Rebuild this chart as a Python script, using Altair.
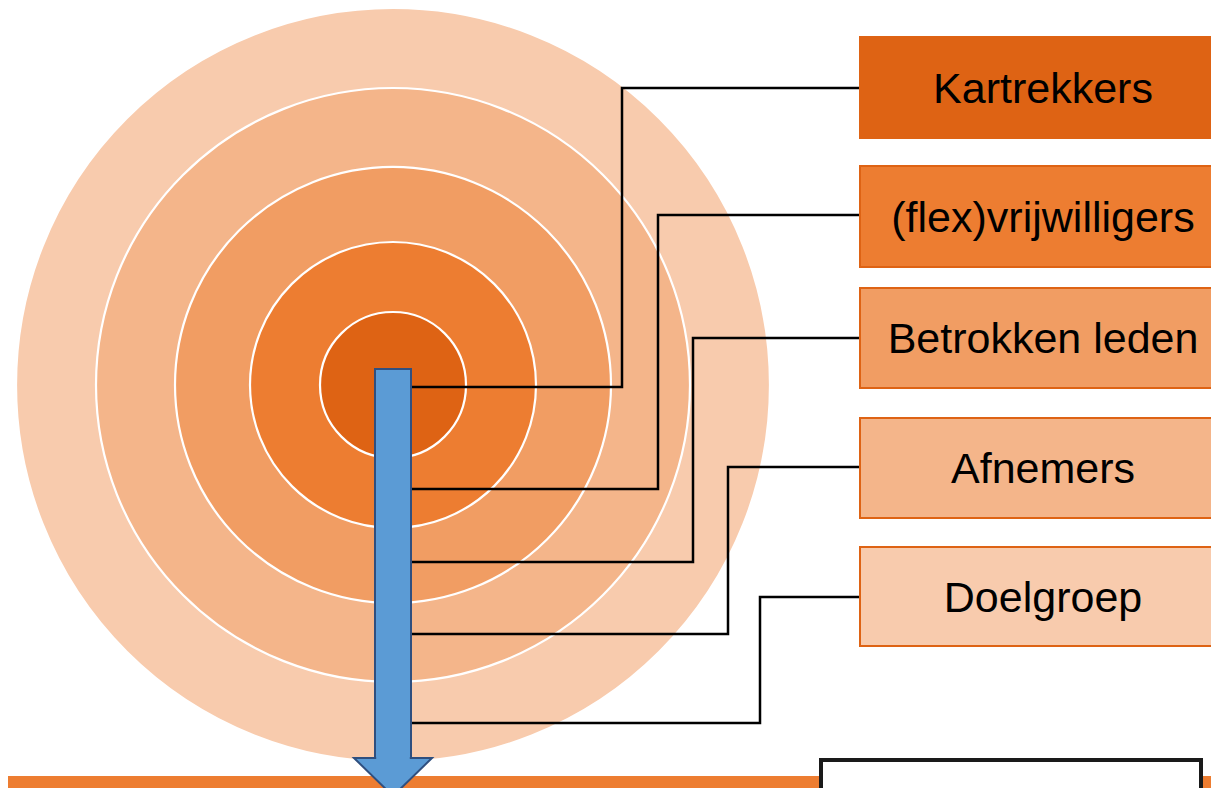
import altair as alt
import pandas as pd

# ---- canvas mapping (page pixels -> scales) ----
W, H = 1203, 780
X0, Y0 = 8, 8

# ---- diagram values ----
labels = ["Kartrekkers", "(flex)vrijwilligers", "Betrokken leden", "Afnemers", "Doelgroep"]
fills = ["#DE6314", "#ED7D31", "#F19D63", "#F4B58A", "#F8CBAD"]
radii = [73, 143, 218, 297, 377]
center_x, center_y = 393, 385

box_top = [37, 166, 288, 418, 547]
box_bottom = [138, 267, 388, 518, 646]
box_left = 860
box_right = 1240
text_x = 1043

link_y_box = [88, 215, 338, 467, 597]
link_x_elbow = [622, 658, 693, 728, 760]
link_y_arrow = [387, 489, 562, 634, 723]
arrow_edge = 411

shaft_x = [375, 411]
shaft_y = [369, 758]
head_x = [354, 393, 432]
head_tip_y = [758, 796, 758]
head_base_y = 758

band_y = [776, 810]
logo_x = [821, 1201]
logo_y = [760, 840]

xs = alt.Scale(domain=[X0, X0 + W], nice=False, zero=False)
ys = alt.Scale(domain=[Y0, Y0 + H], nice=False, zero=False, reverse=True)

# ---- tables ----
band_df = pd.DataFrame({"x": [-10], "x2": [1240], "y": [band_y[0]], "y2": [band_y[1]]})

circ_df = pd.DataFrame({
    "x": [center_x] * 5,
    "y": [center_y] * 5,
    "s": [(2 * r) ** 2 for r in radii[::-1]],
    "fill": fills[::-1],
    "o": list(range(5)),
})

rows = []
for i in range(5):
    pts = [(box_left, link_y_box[i]), (link_x_elbow[i], link_y_box[i]),
           (link_x_elbow[i], link_y_arrow[i]), (arrow_edge, link_y_arrow[i])]
    for j, (px, py) in enumerate(pts):
        rows.append({"g": labels[i], "o": j, "x": px, "y": py})
link_df = pd.DataFrame(rows)

shaft_df = pd.DataFrame({"x": [shaft_x[0]], "x2": [shaft_x[1]], "y": [shaft_y[0]], "y2": [shaft_y[1]]})
head_df = pd.DataFrame({"x": head_x, "y": head_tip_y, "y2": [head_base_y] * 3})
seam_df = pd.DataFrame({"x": [shaft_x[0] + 1.2], "x2": [shaft_x[1] - 1.2],
                        "y": [shaft_y[1] - 8], "y2": [shaft_y[1] + 3]})

box_df = pd.DataFrame({
    "label": labels,
    "fill": fills,
    "x": [box_left] * 5,
    "x2": [box_right] * 5,
    "y": box_top,
    "y2": box_bottom,
    "ty": [(a + b) / 2 for a, b in zip(box_top, box_bottom)],
    "tx": [text_x] * 5,
})

logo_df = pd.DataFrame({"x": [logo_x[0]], "x2": [logo_x[1]], "y": [logo_y[0]], "y2": [logo_y[1]]})

X = lambda f: alt.X(f, type="quantitative", scale=xs, axis=None)
Y = lambda f: alt.Y(f, type="quantitative", scale=ys, axis=None)

BLUE = "#5B9BD5"
EDGE = "#2F4F7F"

band = alt.Chart(band_df).mark_rect(color="#ED7D31").encode(
    x=X("x"), x2="x2", y=Y("y"), y2="y2")

circles = alt.Chart(circ_df).mark_point(
    shape="circle", filled=True, opacity=1, fillOpacity=1,
    stroke="white", strokeWidth=2.2, strokeOpacity=1
).encode(
    x=X("x"), y=Y("y"),
    size=alt.Size("s:Q", scale=None),
    fill=alt.Fill("fill:N", scale=None),
    order=alt.Order("o:Q"),
)

links = alt.Chart(link_df).mark_line(color="black", strokeWidth=2.5, strokeJoin="miter").encode(
    x=X("x"), y=Y("y"), detail="g:N", order="o:Q")

shaft = alt.Chart(shaft_df).mark_rect(fill=BLUE, stroke=EDGE, strokeWidth=2).encode(
    x=X("x"), x2="x2", y=Y("y"), y2="y2")

head = alt.Chart(head_df).mark_area(
    color=BLUE, fillOpacity=1, stroke=EDGE, strokeWidth=2, strokeJoin="miter"
).encode(x=X("x"), y=Y("y"), y2="y2")

seam = alt.Chart(seam_df).mark_rect(fill=BLUE).encode(
    x=X("x"), x2="x2", y=Y("y"), y2="y2")

boxes = alt.Chart(box_df).mark_rect(stroke="#DE6314", strokeWidth=2).encode(
    x=X("x"), x2="x2", y=Y("y"), y2="y2",
    fill=alt.Fill("fill:N", scale=None))

texts = alt.Chart(box_df).mark_text(
    font="Liberation Sans", fontSize=43, align="center", baseline="middle", color="black", dy=2
).encode(x=X("tx"), y=Y("ty"), text="label:N")

logo = alt.Chart(logo_df).mark_rect(fill="white", stroke="#1A1A1A", strokeWidth=4).encode(
    x=X("x"), x2="x2", y=Y("y"), y2="y2")

chart = alt.layer(band, circles, links, shaft, head, seam, boxes, texts, logo).properties(
    width=W, height=H, padding=0, autosize=alt.AutoSizeParams(type="none")
).configure_view(stroke=None)

chart.save("out.html", embed_options={"renderer": "svg", "actions": False})
